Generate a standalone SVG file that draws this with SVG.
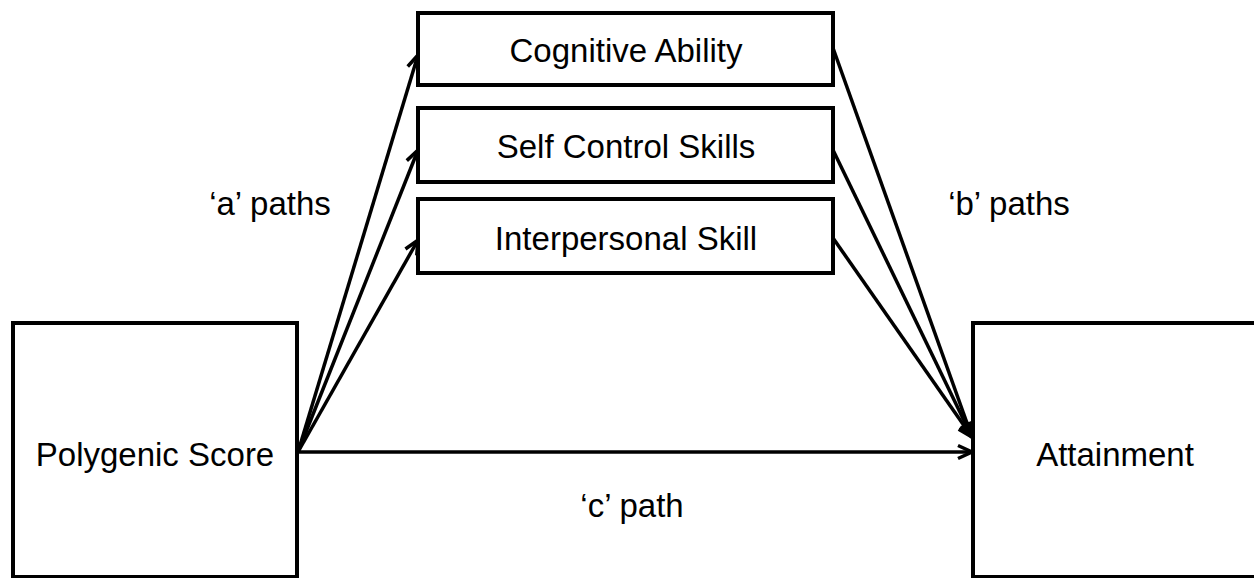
<svg xmlns="http://www.w3.org/2000/svg" width="1254" height="578" viewBox="0 0 1254 578">
<style>
.box{fill:#fff;stroke:#000;stroke-width:4}
.lbl{font-family:"Liberation Sans",Arial,sans-serif;font-size:33px;fill:#000;text-anchor:middle}
.conn{stroke:#000;stroke-width:3.5;fill:none;marker-end:url(#arr)}
</style>
<defs>
<marker id="arr" markerUnits="userSpaceOnUse" markerWidth="18" markerHeight="18" viewBox="0 0 18 18" refX="16" refY="9" orient="auto">
<path d="M2,2.5 L16,9 L2,15.5" fill="none" stroke="#000" stroke-width="3.5" stroke-linejoin="miter"/>
</marker>
</defs>
<rect width="1254" height="578" fill="#fff"/>
<g id="connectors">
<line class="conn" x1="298" y1="452" x2="418" y2="55"/>
<line class="conn" x1="298" y1="452" x2="418" y2="150"/>
<line class="conn" x1="298" y1="452" x2="418" y2="240"/>
<line class="conn" x1="833" y1="48" x2="972" y2="437"/>
<line class="conn" x1="833" y1="150" x2="972" y2="437"/>
<line class="conn" x1="833" y1="238" x2="972" y2="437"/>
<line class="conn" x1="298" y1="452" x2="972" y2="452"/>
</g>
<g id="node-polygenic">
<rect class="box" x="13" y="323" width="284" height="254"/>
<text class="lbl" x="155" y="466">Polygenic Score</text>
</g>
<g id="node-attainment">
<rect class="box" x="973" y="323" width="300" height="254"/>
<text class="lbl" x="1115" y="466">Attainment</text>
</g>
<g id="node-cognitive">
<rect class="box" x="418" y="13" width="415" height="72"/>
<text class="lbl" x="626" y="62">Cognitive Ability</text>
</g>
<g id="node-selfcontrol">
<rect class="box" x="418" y="108" width="415" height="74"/>
<text class="lbl" x="626" y="158">Self Control Skills</text>
</g>
<g id="node-interpersonal">
<rect class="box" x="418" y="199" width="415" height="74"/>
<text class="lbl" x="626" y="250">Interpersonal Skill</text>
</g>
<g id="labels">
<text class="lbl" x="270" y="215">‘a’ paths</text>
<text class="lbl" x="1009" y="215">‘b’ paths</text>
<text class="lbl" x="632" y="517">‘c’ path</text>
</g>
</svg>
